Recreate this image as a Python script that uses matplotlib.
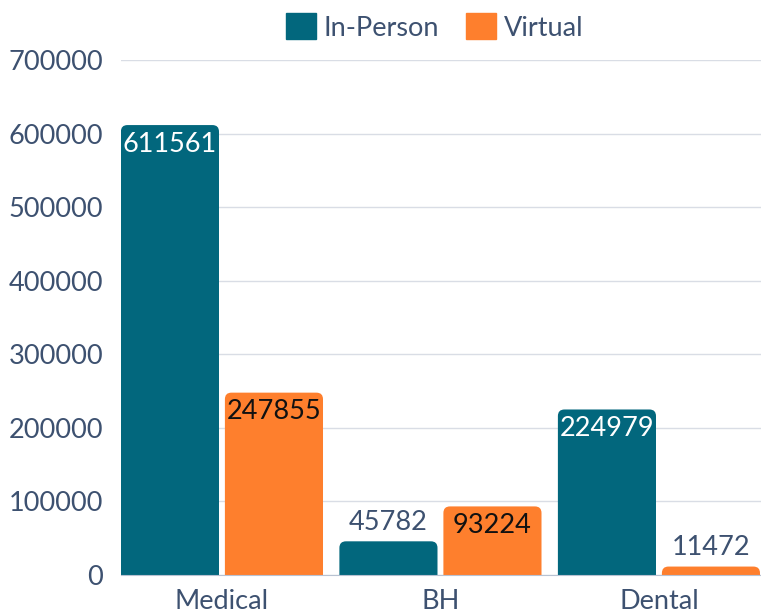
import matplotlib.pyplot as plt
from matplotlib.patches import FancyBboxPatch, Patch

categories = ['Medical', 'BH', 'Dental']
in_person = [611561, 45782, 224979]
virtual = [247855, 93224, 11472]
series_names = ['In-Person', 'Virtual']

TEAL = '#02677d'
ORANGE = '#fe7f2d'
TXT = '#3d5170'
GRID = '#d9dde5'

plt.rcParams['font.family'] = ['Lato', 'DejaVu Sans']
FS = 19.5

fig = plt.figure(figsize=(7.61, 6.13), dpi=100)
ax = fig.add_axes([121 / 761, 38 / 613, 640 / 761, 515 / 613])

x = list(range(len(categories)))
w = 0.449
off = 0.238
b1 = ax.bar([i - off for i in x], in_person, w, color=TEAL)
b2 = ax.bar([i + off for i in x], virtual, w, color=ORANGE)

xmin = -0.462
xmax = xmin + 640 / 218.5
ax.set_xlim(xmin, xmax)
ax.set_ylim(0, 700000)

# rounded top corners: swap bars for fancy boxes sticking below zero
rx = 0.03
aspect = (700000 / 515) / ((xmax - xmin) / 640)
for bars, col in [(b1, TEAL), (b2, ORANGE)]:
    for p in bars.patches:
        p.set_visible(False)
        h = p.get_height()
        fb = FancyBboxPatch((p.get_x(), -20000), p.get_width(), h + 20000,
                            boxstyle='round,pad=0,rounding_size=%f' % rx,
                            mutation_aspect=aspect, fc=col, ec='none',
                            zorder=2, clip_on=True)
        ax.add_patch(fb)

# value labels
px_per_unit = 515 / 700000
for bars, inside_col in [(b1, 'white'), (b2, '#111111')]:
    for p in bars.patches:
        h = p.get_height()
        cx = p.get_x() + p.get_width() / 2
        if h * px_per_unit > 50:
            ax.annotate(f'{h:.0f}', (cx, h), xytext=(0, -19), textcoords='offset pixels',
                        ha='center', va='center', fontsize=FS, color=inside_col, zorder=3)
        else:
            ax.annotate(f'{h:.0f}', (cx, h), xytext=(0, 19), textcoords='offset pixels',
                        ha='center', va='center', fontsize=FS, color=TXT, zorder=3)

ax.set_yticks(range(0, 700001, 100000))
ax.set_xticks(x)
ax.set_xticklabels(categories)
ax.tick_params(axis='both', length=0, labelsize=FS, labelcolor=TXT)
ax.tick_params(axis='y', pad=13)
ax.tick_params(axis='x', pad=10)
ax.grid(axis='y', color=GRID, linewidth=1, zorder=0)
ax.set_axisbelow(True)
for s in ['top', 'right', 'left']:
    ax.spines[s].set_visible(False)
ax.spines['bottom'].set_color('#b8c2d2')
ax.spines['bottom'].set_zorder(4)

handles = [Patch(color=TEAL), Patch(color=ORANGE)]
fig.legend(handles, series_names, loc='center', bbox_to_anchor=(435 / 761, 1 - 27 / 613),
           ncol=2, frameon=False, fontsize=FS, labelcolor=TXT,
           handlelength=1.1, handleheight=1.1, handletextpad=0.3, columnspacing=1.0)

fig.savefig('out.png', dpi=100)
